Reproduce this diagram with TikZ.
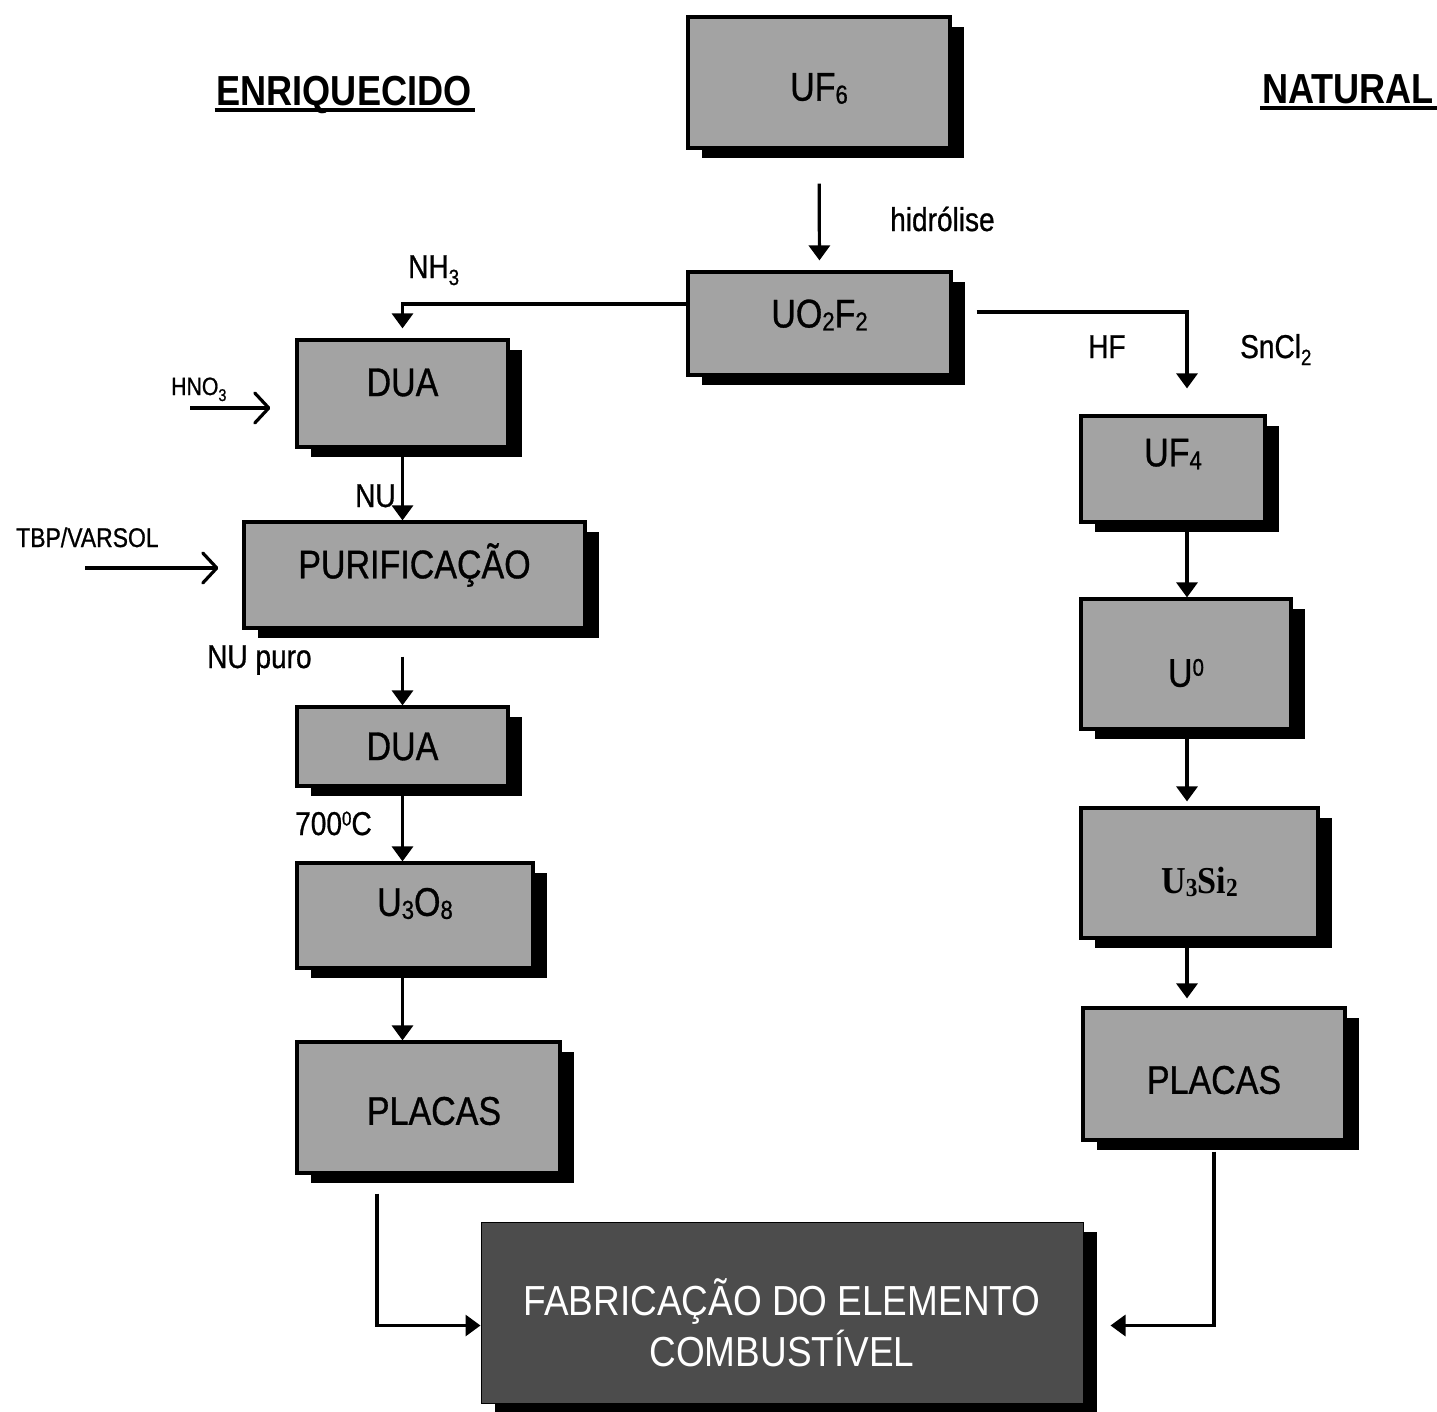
\documentclass[tikz,border=0pt]{standalone}
\usepackage{fontspec}
\setmainfont{Liberation Sans}
\newfontfamily\boxfont[FakeStretch=0.85,FakeBold=0.8]{Liberation Sans}
\newfontfamily\headfont[FakeStretch=0.86]{Liberation Sans}
\newfontfamily\serfont[FakeStretch=0.9]{Liberation Serif}
\newfontfamily\fabfont[FakeStretch=0.88]{Liberation Sans}
\usetikzlibrary{shadows,arrows.meta}
\definecolor{boxgray}{gray}{0.64}
\definecolor{fabgray}{gray}{0.30}
\newcommand\sbx[1]{\raisebox{-3pt}{\fontsize{26}{26}\selectfont #1}}
\newcommand\slb[1]{\raisebox{-7pt}{\fontsize{22}{22}\selectfont #1}}
\newcommand\supb[1]{\raisebox{11pt}{\fontsize{24}{24}\selectfont #1}}
\newcommand\supl[1]{\raisebox{9.5pt}{\fontsize{20}{20}\selectfont #1}}
\newcommand\ulhead[1]{\setbox0\hbox{#1}\rlap{\kern-2pt\rule[-6.5pt]{\dimexpr\wd0+6pt\relax}{3.5pt}}\box0}
\begin{document}
\begin{tikzpicture}[x=1pt,y=-1pt,
  box/.style={draw=black, line width=3.2pt, fill=boxgray, inner sep=0pt,
    drop shadow={shadow xshift=14pt, shadow yshift=-10pt, fill=black, opacity=1}},
  boxlab/.style={font={\boxfont\fontsize{40}{48}\selectfont}, inner sep=0pt},
  fablab/.style={font={\fabfont\fontsize{42}{51}\selectfont}, text=white, align=center, inner sep=0pt},
  lab/.style={font={\boxfont\fontsize{33}{40}\selectfont}, inner sep=0pt, anchor=base west},
  headlab/.style={font={\headfont\bfseries\fontsize{42}{50}\selectfont}, inner sep=0pt, anchor=base},
  arr/.style={line width=3.2pt, -{Triangle[width=21pt,length=15pt]}},
  barb/.style={line width=3.2pt, -{Straight Barb[length=14pt,width=30pt,line width=3.2pt,round]}}]
\useasboundingbox (0,0) rectangle (1437,1411);

% boxes
\node[box, minimum width=262pt, minimum height=131pt,
  label={[boxlab,yshift=-6pt]center:UF\sbx{6}}] (uf6) at (819,82.5) {};
\node[box, minimum width=263pt, minimum height=103pt,
  label={[boxlab,yshift=8.5pt]center:UO\sbx{2}F\sbx{2}}] (uo2f2) at (819.5,323.5) {};
\node[box, minimum width=211pt, minimum height=107pt,
  label={[boxlab,yshift=11pt]center:DUA}] (dua1) at (402.5,393.5) {};
\node[box, minimum width=341pt, minimum height=106pt,
  label={[boxlab,yshift=10pt]center:PURIFICAÇÃO}] (purif) at (414.5,575) {};
\node[box, minimum width=211pt, minimum height=79pt,
  label={[boxlab]center:DUA}] (dua2) at (402.5,746.5) {};
\node[box, minimum width=236pt, minimum height=105pt,
  label={[boxlab,yshift=12pt]center:U\sbx{3}O\sbx{8}}] (u3o8) at (415,915.5) {};
\node[box, minimum width=263pt, minimum height=131pt,
  label={[boxlab,yshift=-3.5pt,xshift=5.5pt]center:PLACAS}] (placasL) at (428.5,1107.5) {};
\node[box, minimum width=184pt, minimum height=106pt,
  label={[boxlab,yshift=15pt]center:UF\sbx{4}}] (uf4) at (1173,469) {};
\node[box, minimum width=210pt, minimum height=130pt,
  label={[boxlab,yshift=-9pt]center:U\supb{0}}] (u0) at (1186,664) {};
\node[box, minimum width=237pt, minimum height=130pt,
  label={[boxlab,yshift=-9pt]center:{\serfont\bfseries\fontsize{38}{44}\selectfont U\sbx{3}Si\sbx{2}}}] (u3si2) at (1199.5,873) {};
\node[box, minimum width=262pt, minimum height=132pt,
  label={[boxlab,yshift=-6pt]center:PLACAS}] (placasR) at (1214,1074) {};
\node[box, draw=black, line width=1pt, fill=fabgray, minimum width=602pt, minimum height=181pt,
  label={[fablab,yshift=-10pt]center:FABRICAÇÃO DO ELEMENTO\\COMBUSTÍVEL}] (fab) at (782,1312.5) {};

% free labels
\node[headlab] (enr) at (344,105) {\ulhead{ENRIQUECIDO}};
\node[headlab] (nat) at (1348,103) {\ulhead{NATURAL}};
\node[lab] (hid) at (890,231) {hidrólise};
\node[lab] (nh3) at (408,278) {NH\slb{3}};
\node[lab] (hf) at (1088,358) {HF};
\node[lab] (sncl) at (1240,358) {SnCl\slb{2}};
\node[lab, font={\boxfont\fontsize{25}{30}\selectfont}] (hno3) at (171,395) {HNO\raisebox{-6pt}{\fontsize{17}{17}\selectfont 3}};
\node[lab] (nu) at (355,507) {NU};
\node[lab, font={\boxfont\fontsize{27}{32}\selectfont}] (tbp) at (16,547) {TBP/VARSOL};
\node[lab] (nupuro) at (207,668) {NU puro};
\node[lab] (temp) at (295,835) {700\supl{0}C};

% connectors
\draw[arr, shorten <=34pt, shorten >=10pt] (uf6.south) -- (uo2f2.north);
\draw[arr, shorten >=10pt] ([yshift=19.5pt]uo2f2.west) -| (dua1.north);
\draw[arr, shorten >=26pt] ([xshift=24pt,yshift=11.5pt]uo2f2.east) -| ([xshift=14pt]uf4.north);

\draw[arr] (dua1.south) -- (dua1.south |- purif.north);
\draw[arr, shorten <=27pt] (dua2.north |- purif.south) -- (dua2.north);
\draw[arr] (dua2.south) -- (dua2.south |- u3o8.north);
\draw[arr] (dua2.south |- u3o8.south) -- (dua2.south |- placasL.north);
\draw[arr, shorten <=19pt] ([xshift=-51.5pt]placasL.south) |- ([yshift=-13pt]fab.west);

\draw[arr] ([xshift=14pt]uf4.south) -- ([xshift=14pt]uf4.south |- u0.north);
\draw[arr, shorten >=5pt] ([xshift=14pt]uf4.south |- u0.south) -- ([xshift=14pt]uf4.south |- u3si2.north);
\draw[arr, shorten >=8pt] ([xshift=14pt]uf4.south |- u3si2.south) -- ([xshift=14pt]uf4.south |- placasR.north);
\draw[arr, shorten <=10pt, shorten >=27pt] (placasR.south) |- ([yshift=-13pt]fab.east);

\coordinate (hno3in) at (190,408);
\draw[barb, shorten >=25pt] (hno3in) -- (hno3in -| dua1.west);
\coordinate (tbpin) at (85,568);
\draw[barb, shorten >=24pt] (tbpin) -- (tbpin -| purif.west);
\end{tikzpicture}
\end{document}
